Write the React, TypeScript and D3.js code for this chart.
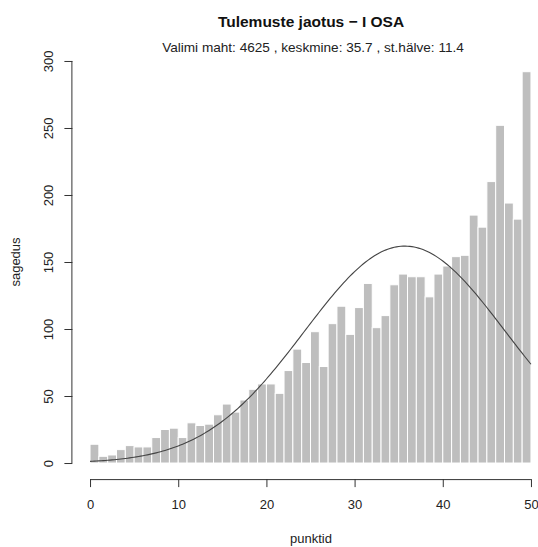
import React, { useEffect, useRef } from "react";
import * as d3 from "d3";

// Histogram counts per 1-point bin, [0,1), [1,2), ... [49,50]
const binStarts = d3.range(0, 50);
const counts = [
  14, 5, 6, 10, 13, 12, 12, 19, 25, 26,
  19, 30, 28, 29, 36, 44, 38, 47, 55, 59,
  59, 52, 69, 85, 75, 98, 72, 104, 117, 96,
  116, 134, 101, 110, 133, 141, 139, 139, 124, 141,
  147, 154, 155, 185, 176, 210, 252, 194, 182, 292,
];
const xTicks = [0, 10, 20, 30, 40, 50];
const yTicks = [0, 50, 100, 150, 200, 250, 300];

// Sample statistics shown in the subtitle, used for the normal curve
const sampleSize = 4625;
const sampleMean = 35.7;
const sampleSd = 11.4;

const FONT = "'Liberation Sans', Arial, sans-serif";

export default function App() {
  const ref = useRef<SVGSVGElement>(null);

  useEffect(() => {
    const width = 538,
      height = 547;
    // plot region (R-style, 4% axis extension)
    const left = 72.4,
      right = 548.6,
      top = 44.9,
      bottom = 479.1;

    const svg = d3.select(ref.current);
    svg.selectAll("*").remove();
    svg.attr("width", width).attr("height", height);

    const x = d3.scaleLinear().domain([-2, 52]).range([left, right]);
    const y = d3.scaleLinear().domain([-12, 312]).range([bottom, top]);

    // Bars
    svg
      .append("g")
      .selectAll("rect")
      .data(binStarts)
      .enter()
      .append("rect")
      .attr("x", (d) => x(d))
      .attr("y", (d, i) => y(counts[i]))
      .attr("width", (d) => x(d + 1) - x(d))
      .attr("height", (d, i) => y(0) - y(counts[i]))
      .attr("fill", "#bebebe")
      .attr("stroke", "white")
      .attr("stroke-width", 1);

    // Normal curve scaled to counts
    const curveX = d3.range(0, 50.001, 0.25);
    const dens = (v: number) =>
      (sampleSize / (sampleSd * Math.sqrt(2 * Math.PI))) *
      Math.exp(-0.5 * ((v - sampleMean) / sampleSd) ** 2);
    const line = d3
      .line<number>()
      .x((d) => x(d))
      .y((d) => y(dens(d)));
    svg
      .append("path")
      .datum(curveX)
      .attr("d", line)
      .attr("fill", "none")
      .attr("stroke", "#444")
      .attr("stroke-width", 1.1);

    // X axis
    const xAxis = d3.axisBottom(x).tickValues(xTicks).tickSize(8).tickSizeOuter(0);
    const gx = svg
      .append("g")
      .attr("transform", "translate(0," + bottom + ")")
      .call(xAxis);
    gx.select(".domain").attr("stroke", "#333").attr("d", `M${x(0)},0.5H${x(50)}`);
    gx.selectAll(".tick line").attr("stroke", "#333");
    gx.selectAll(".tick text")
      .attr("font-family", FONT)
      .attr("font-size", 13)
      .attr("fill", "#222")
      .attr("dy", "1.45em");

    // Y axis
    const yAxis = d3.axisLeft(y).tickValues(yTicks).tickSize(8).tickSizeOuter(0);
    const gy = svg
      .append("g")
      .attr("transform", "translate(" + left + ",0)")
      .call(yAxis);
    gy.select(".domain").attr("stroke", "#333").attr("d", `M-0.5,${y(0)}V${y(300)}`);
    gy.selectAll(".tick line").attr("stroke", "#333");
    gy.selectAll(".tick text")
      .attr("font-family", FONT)
      .attr("font-size", 13)
      .attr("fill", "#222")
      .attr("text-anchor", "middle")
      .attr("x", 0)
      .attr("dy", 0)
      .attr("transform", "translate(-19,0) rotate(-90)");

    // Titles
    svg
      .append("text")
      .attr("x", 311)
      .attr("y", 27)
      .attr("text-anchor", "middle")
      .attr("font-family", FONT)
      .attr("font-weight", "bold")
      .attr("font-size", 15.5)
      .attr("fill", "#111")
      .text("Tulemuste jaotus \u2212 I OSA");
    svg
      .append("text")
      .attr("x", 313)
      .attr("y", 52)
      .attr("text-anchor", "middle")
      .attr("font-family", FONT)
      .attr("font-size", 13.6)
      .attr("fill", "#222")
      .text("Valimi maht: 4625 , keskmine: 35.7 , st.hälve: 11.4");
    svg
      .append("text")
      .attr("x", 311)
      .attr("y", 543)
      .attr("text-anchor", "middle")
      .attr("font-family", FONT)
      .attr("font-size", 13)
      .attr("fill", "#222")
      .text("punktid");
    svg
      .append("text")
      .attr("transform", "translate(20," + y(150) + ") rotate(-90)")
      .attr("text-anchor", "middle")
      .attr("font-family", FONT)
      .attr("font-size", 13)
      .attr("fill", "#222")
      .text("sagedus");
  }, []);

  return (
    <svg
      ref={ref}
      style={{ position: "absolute", left: 0, top: 0, background: "white" }}
    ></svg>
  );
}
